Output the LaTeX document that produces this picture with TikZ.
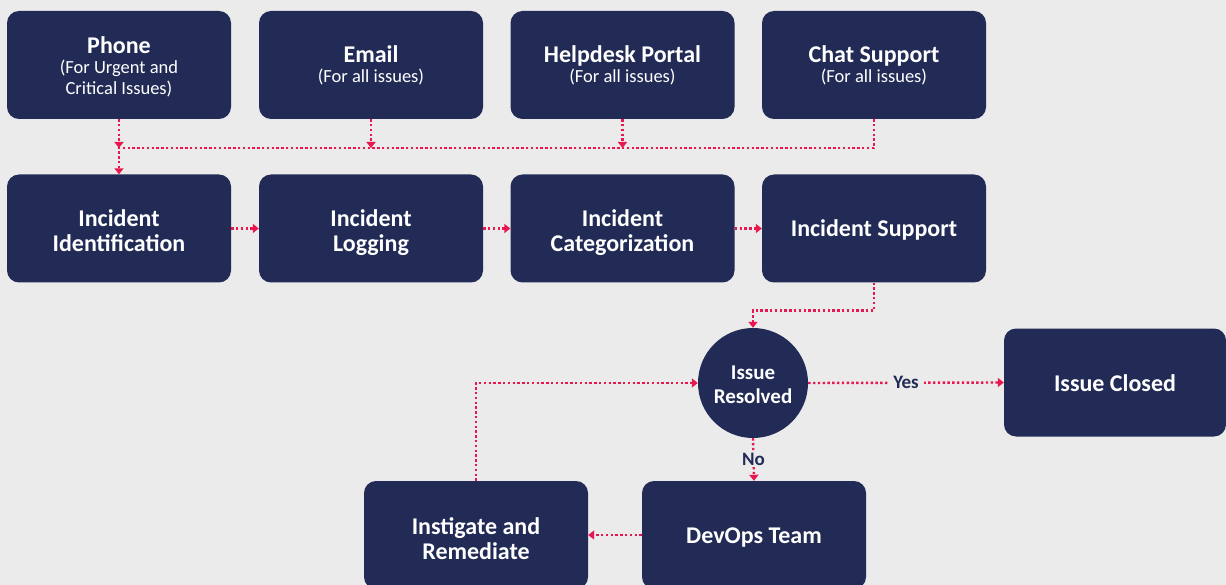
\documentclass[tikz,border=0pt]{standalone}
\usepackage{fontspec}
\setmainfont{Carlito}
\usetikzlibrary{arrows.meta}
\definecolor{navy}{HTML}{222B56}
\definecolor{paper}{HTML}{EBEBEB}
\definecolor{flow}{HTML}{E8174F}
\newcommand{\subline}{\mdseries\fontsize{18.5}{21}\selectfont}
% fixed line struts so every card centres its text the same way
\newcommand{\topgap}[1]{\rule{0pt}{#1pt}}
\newcommand{\botgap}{\rule[-5pt]{0pt}{0pt}}
\begin{document}
\begin{tikzpicture}[x=1pt,y=-1pt,
  card/.style={fill=navy, rounded corners=12pt, minimum width=224pt,
    minimum height=108pt, text=white, align=center, inner sep=0pt,
    font=\bfseries\fontsize{24}{25}\selectfont},
  decision/.style={circle, fill=navy, minimum size=110pt, inner sep=0pt,
    text=white, align=center, font=\bfseries\fontsize{21}{24}\selectfont},
  link/.style={draw=flow, line width=2.4pt, dash pattern=on 2.4pt off 2.4pt,
    -{Triangle[length=6pt,width=9pt]}},
  lab/.style={fill=paper, text=navy, inner sep=5pt,
    font=\bfseries\fontsize{19}{21}\selectfont}]
\useasboundingbox (0,0) rectangle (1226,585);
\clip (0,0) rectangle (1226,585);
\fill[paper] (0,0) rectangle (1226,585);

% intake channels
\node[card] (phone) at (119,65) {\topgap{21}Phone\\[-5pt]{\subline (For Urgent and}\\[-4pt]{\subline Critical Issues)}};
\node[card] (email) at (371,65) {Email\\[-5pt]{\subline (For all issues)}};
\node[card] (portal) at (622.5,65) {Helpdesk Portal\\[-5pt]{\subline (For all issues)}};
\node[card] (chat) at (874,65) {Chat Support\\[-5pt]{\subline (For all issues)}};

% incident pipeline
\node[card] (ident) at (119,228.5) {\topgap{26}Incident\\Identification\botgap};
\node[card] (logging) at (371,228.5) {\topgap{26}Incident\\Logging\botgap};
\node[card] (categ) at (622.5,228.5) {\topgap{26}Incident\\Categorization\botgap};
\node[card] (support) at (874,228.5) {\topgap{22}Incident Support\botgap};

% resolution loop
\node[decision] (resolved) at (753,383) {\topgap{16.5}Issue\\Resolved};
\node[card, minimum width=222pt] (closed) at (1115,382.5) {\topgap{22}Issue Closed\botgap};
\node[card] (devops) at (754,535) {\topgap{22}DevOps Team\botgap};
\node[card] (remedy) at (476,535) {\topgap{28}Instigate and\\Remediate\botgap};

\coordinate (bus) at (0,148);

% channels feed the common bus
\draw[link] (phone.south) -- (phone.south |- bus);
\draw[link] (email.south) -- (email.south |- bus);
\draw[link] (portal.south) -- (portal.south |- bus);
\draw[link] (chat.south) -- (chat.south |- bus) -- (phone.south |- bus) -- (ident.north);

% pipeline steps
\draw[link] (ident.east) -- (logging.west);
\draw[link] (logging.east) -- (categ.west);
\draw[link] (categ.east) -- (support.west);
\draw[link] (support.south) -- ++(0,28) -| (resolved.north);

% decision outcomes
\draw[link] (resolved.east) -- node[lab] {Yes} (closed.west);
\draw[link] (resolved.south) -- node[lab, inner sep=1.5pt] {No} (devops.north);
\draw[link] (devops.west) -- (remedy.east);
\draw[link] (remedy.north) -- (remedy.north |- resolved.west) -- (resolved.west);
\end{tikzpicture}
\end{document}
